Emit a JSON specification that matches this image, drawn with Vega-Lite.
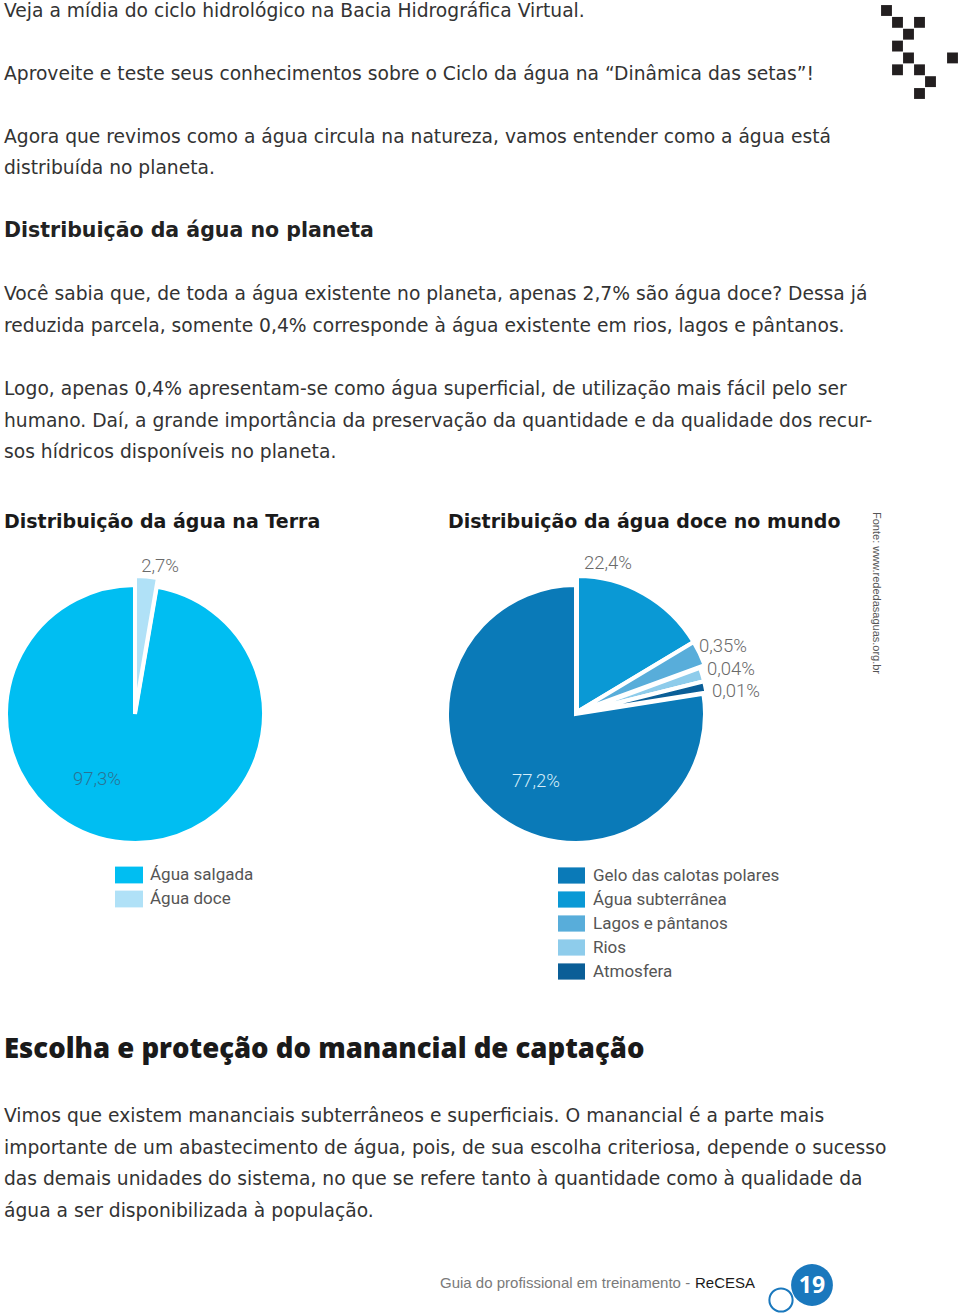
{
  "$schema": "https://vega.github.io/schema/vega-lite/v6.json",
  "width": 960,
  "height": 1314,
  "autosize": {"type": "none"},
  "padding": 0,
  "background": "white",
  "config": {"view": {"stroke": null}},
  "data": {"values": [{}]},
  "resolve": {"scale": {"color": "independent"}, "legend": {"color": "independent"}},
  "layer": [
    {
      "data": {"values": [
        {"col": 0, "lin": 0}, {"col": 1, "lin": 1}, {"col": 3, "lin": 1}, {"col": 2, "lin": 2},
        {"col": 1, "lin": 3}, {"col": 2, "lin": 4}, {"col": 6, "lin": 4}, {"col": 1, "lin": 5},
        {"col": 3, "lin": 5}, {"col": 4, "lin": 6}, {"col": 3, "lin": 7}
      ]},
      "mark": {"type": "square", "size": 118, "opacity": 1, "color": "#231f20"},
      "encoding": {
        "x": {"field": "col", "type": "quantitative", "scale": {"domain": [0, 6], "range": [886.5, 952.5]}, "axis": null},
        "y": {"field": "lin", "type": "quantitative", "scale": {"domain": [0, 7], "range": [10.5, 93.5]}, "axis": null}
      }
    },
    {
      "data": {"values": [
        {"parte": "Água doce", "valor": 2.7, "ordem": 1},
        {"parte": "Água salgada", "valor": 97.3, "ordem": 2}
      ]},
      "transform": [{"stack": "valor", "groupby": [], "sort": [{"field": "ordem"}], "as": ["ini", "fim"]}],
      "encoding": {
        "theta": {"field": "ini", "type": "quantitative", "scale": {"domain": [0, 100]}},
        "theta2": {"field": "fim"},
        "color": {
          "field": "parte", "type": "nominal",
          "scale": {"domain": ["Água salgada", "Água doce"], "range": ["#00BEF2", "#B0E1F7"]},
          "legend": {
            "orient": "none", "legendX": 115, "legendY": 861, "title": null,
            "symbolType": "M-1,-0.6H1V0.6H-1Z", "symbolSize": 784, "symbolStrokeWidth": 0, "symbolOpacity": 1,
            "labelFont": "Roboto", "labelFontSize": 17, "labelColor": "#555555", "labelOffset": 7, "labelLimit": 300,
            "rowPadding": 1, "padding": 0
          }
        }
      },
      "layer": [
        {"transform": [{"filter": "datum.parte === 'Água salgada'"}],
         "mark": {"type": "arc", "x": 135, "y": 714, "radius": 129, "stroke": "white", "strokeWidth": 4}},
        {"transform": [{"filter": "datum.parte === 'Água doce'"}],
         "mark": {"type": "arc", "x": 135, "y": 712, "radius": 136, "stroke": "white", "strokeWidth": 4}}
      ]
    },
    {
      "data": {"values": [
        {"parte": "Água subterrânea", "valor": 22.4, "fatia": 16.4, "ordem": 1},
        {"parte": "Lagos e pântanos", "valor": 0.35, "fatia": 3.0, "ordem": 2},
        {"parte": "Rios", "valor": 0.04, "fatia": 1.7, "ordem": 3},
        {"parte": "Atmosfera", "valor": 0.01, "fatia": 1.4, "ordem": 4},
        {"parte": "Gelo das calotas polares", "valor": 77.2, "fatia": 77.5, "ordem": 5}
      ]},
      "transform": [{"stack": "fatia", "groupby": [], "sort": [{"field": "ordem"}], "as": ["ini", "fim"]}],
      "encoding": {
        "theta": {"field": "ini", "type": "quantitative", "scale": {"domain": [0, 100]}},
        "theta2": {"field": "fim"},
        "color": {
          "field": "parte", "type": "nominal",
          "scale": {
            "domain": ["Gelo das calotas polares", "Água subterrânea", "Lagos e pântanos", "Rios", "Atmosfera"],
            "range": ["#0A7AB8", "#0A99D5", "#58ADDA", "#8ECCEB", "#0A5E97"]
          },
          "legend": {
            "orient": "none", "legendX": 558, "legendY": 862, "title": null,
            "symbolType": "M-1,-0.6H1V0.6H-1Z", "symbolSize": 729, "symbolStrokeWidth": 0, "symbolOpacity": 1,
            "labelFont": "Roboto", "labelFontSize": 17, "labelColor": "#555555", "labelOffset": 8, "labelLimit": 300,
            "rowPadding": 2, "padding": 0
          }
        }
      },
      "layer": [
        {"transform": [{"filter": "datum.parte === 'Gelo das calotas polares'"}],
         "mark": {"type": "arc", "x": 576, "y": 714, "radius": 129, "stroke": "white", "strokeWidth": 4}},
        {"transform": [{"filter": "datum.parte === 'Água subterrânea' || datum.parte === 'Lagos e pântanos'"}],
         "mark": {"type": "arc", "x": 577, "y": 712, "radius": 136, "stroke": "white", "strokeWidth": 4}},
        {"transform": [{"filter": "datum.parte === 'Rios' || datum.parte === 'Atmosfera'"}],
         "mark": {"type": "arc", "x": 577, "y": 713, "radius": 131, "stroke": "white", "strokeWidth": 4}}
      ]
    },
    {"mark": {"type": "text", "x": 160, "y": 566, "text": "2,7%", "font": "Roboto", "fontWeight": 300, "fontSize": 18.5, "color": "#6a6a6a", "align": "center", "baseline": "middle"}, "encoding": {}},
    {"mark": {"type": "text", "x": 97, "y": 779, "text": "97,3%", "font": "Roboto", "fontWeight": 300, "fontSize": 18.5, "color": "#2a7394", "align": "center", "baseline": "middle"}, "encoding": {}},
    {"mark": {"type": "text", "x": 608, "y": 563, "text": "22,4%", "font": "Roboto", "fontWeight": 300, "fontSize": 18.5, "color": "#6a6a6a", "align": "center", "baseline": "middle"}, "encoding": {}},
    {"mark": {"type": "text", "x": 699, "y": 646, "text": "0,35%", "font": "Roboto", "fontWeight": 300, "fontSize": 18.5, "color": "#6a6a6a", "align": "left", "baseline": "middle"}, "encoding": {}},
    {"mark": {"type": "text", "x": 707, "y": 669, "text": "0,04%", "font": "Roboto", "fontWeight": 300, "fontSize": 18.5, "color": "#6a6a6a", "align": "left", "baseline": "middle"}, "encoding": {}},
    {"mark": {"type": "text", "x": 712, "y": 691, "text": "0,01%", "font": "Roboto", "fontWeight": 300, "fontSize": 18.5, "color": "#6a6a6a", "align": "left", "baseline": "middle"}, "encoding": {}},
    {"mark": {"type": "text", "x": 536, "y": 781, "text": "77,2%", "font": "Roboto", "fontWeight": 300, "fontSize": 18.5, "color": "#d4edf8", "align": "center", "baseline": "middle"}, "encoding": {}},
    {"mark": {"type": "text", "x": 4, "y": 17, "text": "Veja a mídia do ciclo hidrológico na Bacia Hidrográfica Virtual.", "font": "DejaVu Sans", "fontSize": 18.7, "color": "#333333", "align": "left", "baseline": "alphabetic"}, "encoding": {}},
    {"mark": {"type": "text", "x": 4, "y": 80, "text": "Aproveite e teste seus conhecimentos sobre o Ciclo da água na “Dinâmica das setas”!", "font": "DejaVu Sans", "fontSize": 18.7, "color": "#333333", "align": "left", "baseline": "alphabetic"}, "encoding": {}},
    {"mark": {"type": "text", "x": 4, "y": 143, "lineHeight": 31, "text": ["Agora que revimos como a água circula na natureza, vamos entender como a água está", "distribuída no planeta."], "font": "DejaVu Sans", "fontSize": 18.7, "color": "#333333", "align": "left", "baseline": "alphabetic"}, "encoding": {}},
    {"mark": {"type": "text", "x": 4, "y": 237, "text": "Distribuição da água no planeta", "font": "DejaVu Sans", "fontWeight": "bold", "fontSize": 20.5, "color": "#222222", "align": "left", "baseline": "alphabetic"}, "encoding": {}},
    {"mark": {"type": "text", "x": 4, "y": 300, "lineHeight": 32, "text": ["Você sabia que, de toda a água existente no planeta, apenas 2,7% são água doce? Dessa já", "reduzida parcela, somente 0,4% corresponde à água existente em rios, lagos e pântanos."], "font": "DejaVu Sans", "fontSize": 18.7, "color": "#333333", "align": "left", "baseline": "alphabetic"}, "encoding": {}},
    {"mark": {"type": "text", "x": 4, "y": 395, "lineHeight": 31.5, "text": ["Logo, apenas 0,4% apresentam-se como água superficial, de utilização mais fácil pelo ser", "humano. Daí, a grande importância da preservação da quantidade e da qualidade dos recur-", "sos hídricos disponíveis no planeta."], "font": "DejaVu Sans", "fontSize": 18.7, "color": "#333333", "align": "left", "baseline": "alphabetic"}, "encoding": {}},
    {"mark": {"type": "text", "x": 4, "y": 528, "text": "Distribuição da água na Terra", "font": "DejaVu Sans", "fontWeight": "bold", "fontSize": 19, "color": "#1a1a1a", "align": "left", "baseline": "alphabetic"}, "encoding": {}},
    {"mark": {"type": "text", "x": 448, "y": 528, "text": "Distribuição da água doce no mundo", "font": "DejaVu Sans", "fontWeight": "bold", "fontSize": 19, "color": "#1a1a1a", "align": "left", "baseline": "alphabetic"}, "encoding": {}},
    {"mark": {"type": "text", "x": 876, "y": 512, "angle": 90, "text": "Fonte: www.rededasaguas.org.br", "font": "Liberation Sans", "fontSize": 11, "color": "#555555", "align": "left", "baseline": "middle"}, "encoding": {}},
    {"mark": {"type": "text", "x": 4, "y": 1058, "text": "Escolha e proteção do manancial de captação", "font": "Open Sans", "fontWeight": 800, "fontSize": 27.5, "color": "#1a1a1a", "align": "left", "baseline": "alphabetic"}, "encoding": {}},
    {"mark": {"type": "text", "x": 4, "y": 1122, "lineHeight": 31.5, "text": ["Vimos que existem mananciais subterrâneos e superficiais. O manancial é a parte mais", "importante de um abastecimento de água, pois, de sua escolha criteriosa, depende o sucesso", "das demais unidades do sistema, no que se refere tanto à quantidade como à qualidade da", "água a ser disponibilizada à população."], "font": "DejaVu Sans", "fontSize": 18.7, "color": "#333333", "align": "left", "baseline": "alphabetic"}, "encoding": {}},
    {"mark": {"type": "text", "x": 440, "y": 1288, "text": "Guia do profissional em treinamento - ", "font": "Liberation Sans", "fontSize": 15, "color": "#7a7a7a", "align": "left", "baseline": "alphabetic"}, "encoding": {}},
    {"mark": {"type": "text", "x": 755, "y": 1288, "text": "ReCESA", "font": "Liberation Sans", "fontSize": 15, "color": "#1a1a1a", "align": "right", "baseline": "alphabetic"}, "encoding": {}},
    {"mark": {"type": "point", "shape": "circle", "x": 781, "y": 1300, "size": 540, "filled": true, "fill": "white", "stroke": "#1a78bd", "strokeWidth": 2, "opacity": 1}, "encoding": {}},
    {"mark": {"type": "point", "shape": "circle", "x": 812, "y": 1285, "size": 1750, "filled": true, "color": "#1a78bd", "opacity": 1}, "encoding": {}},
    {"mark": {"type": "text", "x": 812, "y": 1286, "text": "19", "font": "Open Sans", "fontWeight": "bold", "fontSize": 23, "color": "white", "align": "center", "baseline": "middle"}, "encoding": {}}
  ]
}
